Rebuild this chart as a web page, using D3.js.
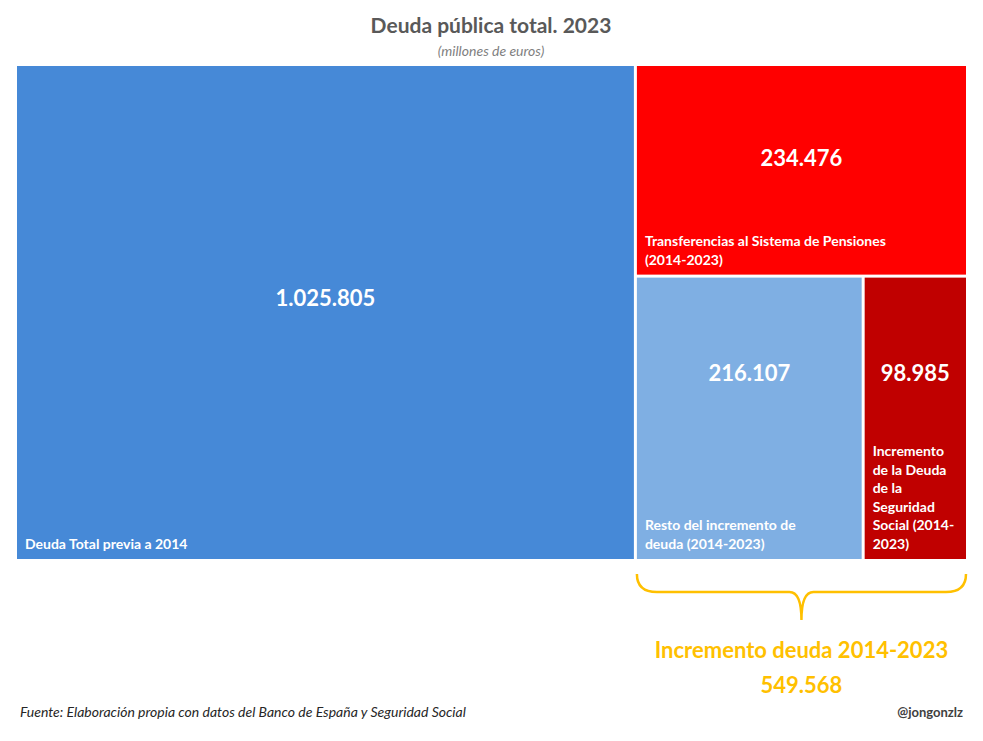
<!DOCTYPE html><html><head><meta charset="utf-8">
<script src="https://cdn.jsdelivr.net/npm/d3@7"></script>
<style>body{margin:0;background:#fff}svg{font-family:Lato,"Open Sans",sans-serif}</style></head><body>
<svg id="c" width="983" height="741"></svg>
<script>
const labels=["Deuda Total previa a 2014","Transferencias al Sistema de Pensiones (2014-2023)","Resto del incremento de deuda (2014-2023)","Incremento de la Deuda de la Seguridad Social (2014-2023)"];
const values=[1025805,234476,216107,98985];
const valueLabels=["1.025.805","234.476","216.107","98.985"];
const colors=["#4689D7","#FF0000","#7FAFE3","#C00000"];
const labelLines=[["Deuda Total previa a 2014"],["Transferencias al Sistema de Pensiones","(2014-2023)"],["Resto del incremento de","deuda (2014-2023)"],["Incremento","de la Deuda","de la","Seguridad","Social (2014-","2023)"]];
const svg=d3.select("#c");
const root=d3.hierarchy({children:values.map((v,i)=>({i,v}))}).sum(d=>d.v||0);
d3.treemap().tile(d3.treemapBinary).size([949,493]).paddingInner(3)(root);
const g=svg.append("g").attr("transform","translate(17,66)");
const leaves=root.leaves();
const cell=g.selectAll("g").data(leaves).join("g").attr("transform",d=>`translate(${d.x0},${d.y0})`);
cell.append("rect").attr("width",d=>d.x1-d.x0).attr("height",d=>d.y1-d.y0).attr("fill",d=>colors[d.data.i]);
const vy=[240,100,103,103];
cell.append("text").attr("x",d=>(d.x1-d.x0)/2).attr("y",d=>vy[d.data.i]).attr("text-anchor","middle")
 .attr("fill","#fff").attr("font-weight","bold").attr("font-size",22).text(d=>valueLabels[d.data.i]);
cell.each(function(d){
 const lines=labelLines[d.data.i], h=d.y1-d.y0, lh=18.5;
 d3.select(this).append("text").attr("fill","#fff").attr("font-weight","bold").attr("font-size",14)
  .selectAll("tspan").data(lines).join("tspan").attr("x",8).attr("y",(l,k)=>h-10-(lines.length-1-k)*lh).text(l=>l);
});
svg.append("text").attr("x",491).attr("y",33).attr("text-anchor","middle").attr("font-size",21).attr("font-weight","bold").attr("fill","#595959").text("Deuda pública total. 2023");
svg.append("text").attr("x",491).attr("y",56).attr("text-anchor","middle").attr("font-size",14).attr("font-style","italic").attr("fill","#7f7f7f").text("(millones de euros)");
// brace
const bx0=leaves[1].x0+17, bx1=leaves[1].x1+17, mid=(bx0+bx1)/2;
svg.append("path").attr("fill","none").attr("stroke","#FFC000").attr("stroke-width",2.5)
 .attr("d",`M${bx0},574 Q${bx0},592 ${bx0+20},592 L${mid-12},592 Q${mid},592 ${mid},620 Q${mid},592 ${mid+12},592 L${bx1-20},592 Q${bx1},592 ${bx1},574`);
svg.append("text").attr("x",mid).attr("y",658).attr("text-anchor","middle").attr("font-size",22).attr("font-weight","bold").attr("fill","#FFC000").text("Incremento deuda 2014-2023");
svg.append("text").attr("x",mid).attr("y",693).attr("text-anchor","middle").attr("font-size",22).attr("font-weight","bold").attr("fill","#FFC000").text("549.568");
svg.append("text").attr("x",20).attr("y",717).attr("font-size",14).attr("font-style","italic").attr("fill","#262626").text("Fuente: Elaboración propia con datos del Banco de España y Seguridad Social");
svg.append("text").attr("x",963).attr("y",717).attr("text-anchor","end").attr("font-size",13).attr("font-weight","bold").attr("fill","#404040").text("@jongonzlz");
</script></body></html>
